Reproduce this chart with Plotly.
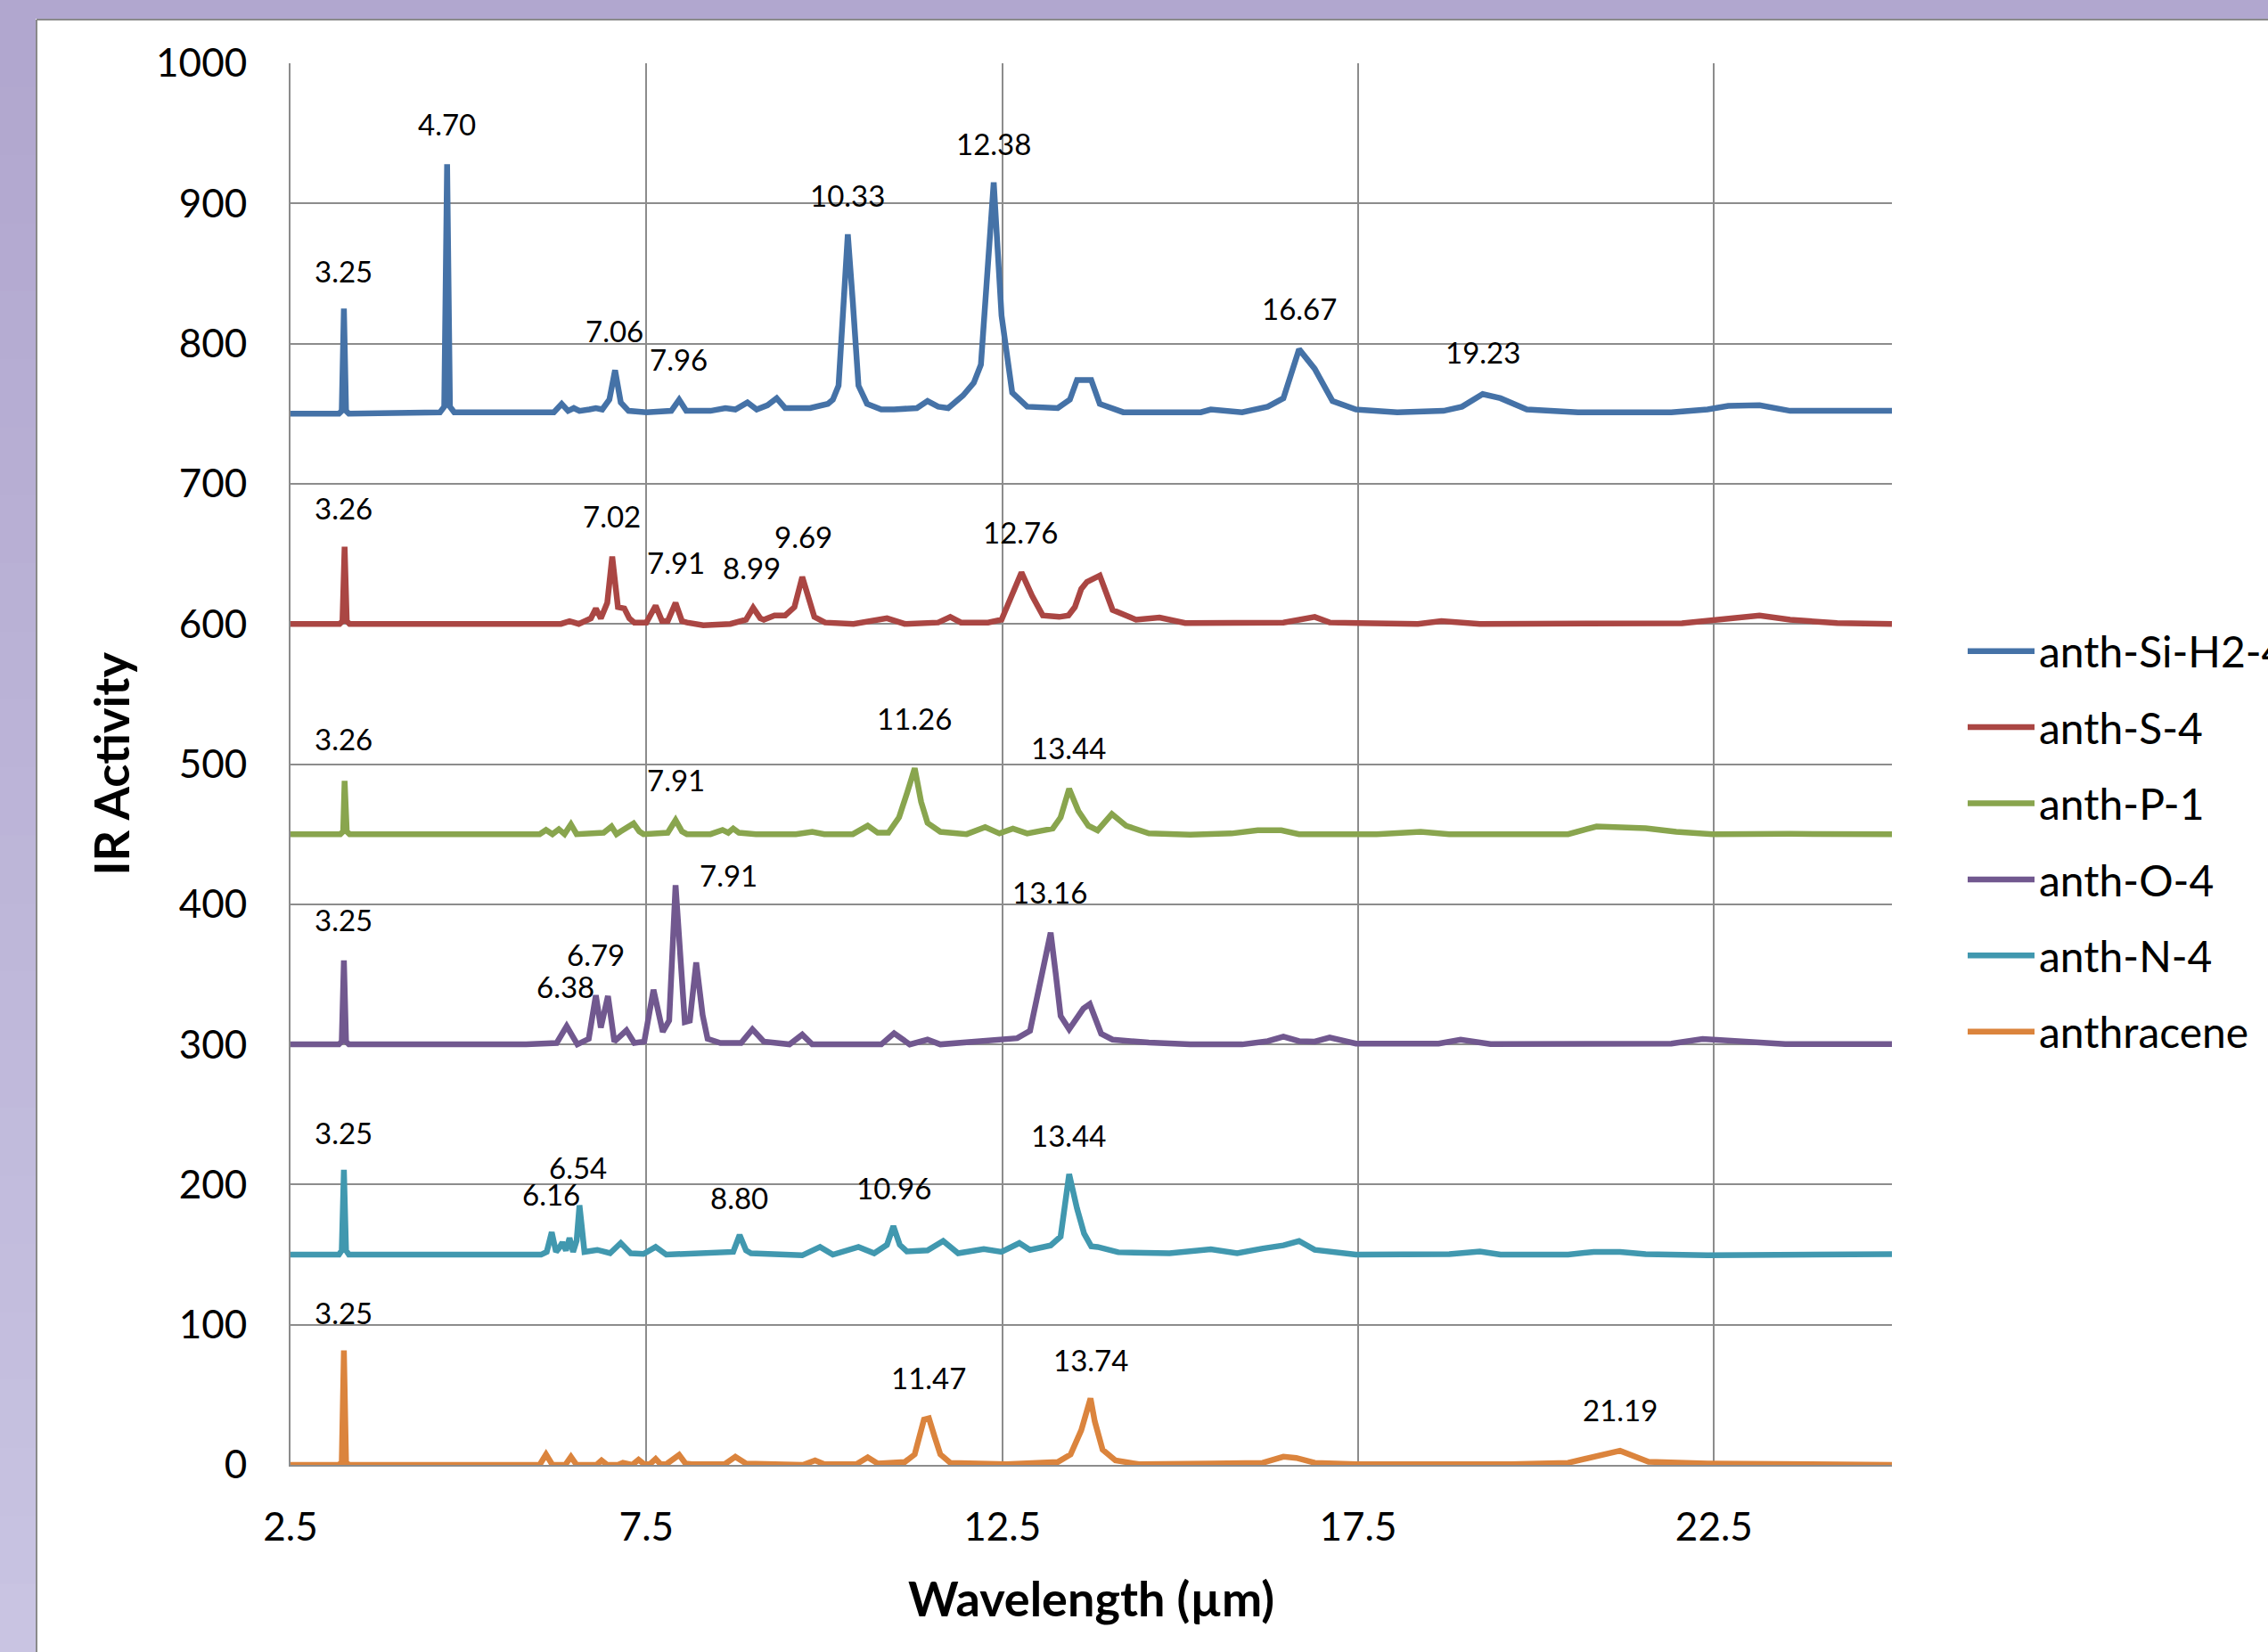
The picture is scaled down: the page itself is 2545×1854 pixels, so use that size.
import plotly.graph_objects as go

# ---------------- data ----------------
series_names = ["anth-Si-H2-4", "anth-S-4", "anth-P-1", "anth-O-4", "anth-N-4", "anthracene"]
series_colors = ["#4572A7", "#AA4643", "#89A54E", "#71588F", "#4198AF", "#DB843D"]

si_x = [2.5, 3.18, 3.22, 3.25, 3.28, 3.32, 4.6, 4.66, 4.70, 4.74, 4.8, 6.2, 6.31, 6.4, 6.48, 6.56,
        6.7, 6.79, 6.88, 6.98, 7.06, 7.14, 7.25, 7.5, 7.85, 7.96, 8.06, 8.4, 8.61, 8.75, 8.92, 9.05,
        9.2, 9.33, 9.45, 9.8, 10.05, 10.12, 10.2, 10.33, 10.4, 10.48, 10.6, 10.8, 10.98, 11.3, 11.45,
        11.6, 11.74, 11.95, 12.1, 12.2, 12.38, 12.49, 12.64, 12.85, 13.28, 13.45, 13.55, 13.75, 13.87,
        14.2, 15.29, 15.43, 15.87, 16.23, 16.45, 16.67, 16.89, 17.14, 17.47, 18.05, 18.7, 18.96, 19.25,
        19.5, 19.87, 20.59, 21.9, 22.41, 22.7, 23.14, 23.57, 25.0]
si_y = [750, 750, 752, 825, 752, 750, 751, 755, 928, 755, 751, 751, 757, 752, 754, 752,
        753, 754, 753, 760, 781, 758, 752, 751, 752, 760, 752, 752, 754, 753, 758, 753,
        756, 761, 754, 754, 757, 760, 770, 878, 830, 770, 757, 753, 753, 754, 759,
        755, 754, 763, 772, 785, 915, 820, 765, 755, 754, 760, 774, 774, 757,
        751, 751, 753, 751, 755, 761, 796, 782, 759, 753, 751, 752, 755, 764,
        761, 753, 751, 751, 753, 755.5, 756, 752, 752]

s_x = [2.5, 3.19, 3.23, 3.26, 3.29, 3.33, 6.3, 6.42, 6.55, 6.72, 6.79, 6.86, 6.95, 7.02, 7.1, 7.19,
       7.26, 7.33, 7.5, 7.63, 7.72, 7.8, 7.91, 8.0, 8.07, 8.3, 8.68, 8.9, 9.0, 9.1, 9.15, 9.3, 9.45,
       9.58, 9.69, 9.78, 9.86, 10.01, 10.41, 10.88, 11.13, 11.6, 11.77, 11.92, 12.3, 12.49, 12.64,
       12.77, 12.92, 13.07, 13.3, 13.43, 13.52, 13.61, 13.69, 13.87, 14.05, 14.38, 14.71, 15.07, 16.45,
       16.89, 17.1, 18.34, 18.67, 19.21, 22.05, 22.77, 23.14, 23.57, 24.23, 25.0]
s_y = [600, 600, 602, 655, 602, 600, 600, 602, 600, 604, 611, 604, 615, 648, 612, 611,
       604, 601, 601, 613, 602, 602, 615, 602, 601, 599, 600, 603, 611.5, 604, 603, 606, 606,
       612, 633.5, 617, 605, 601, 600, 604, 600, 601, 605, 601, 601, 603, 622,
       636.7, 620, 606, 605, 606, 612, 625, 630, 634.5, 610, 603, 604.5, 600.6, 601,
       605, 601, 600, 602, 600, 600.5, 604, 606, 603, 600.6, 600]

p_x = [2.5, 3.2, 3.24, 3.26, 3.29, 3.33, 6.0, 6.09, 6.18, 6.27, 6.35, 6.44, 6.52, 6.6, 6.81, 6.9,
       7.01, 7.08, 7.14, 7.32, 7.4, 7.46, 7.8, 7.91, 8.0, 8.07, 8.4, 8.57, 8.65, 8.72, 8.8, 9.04,
       9.6, 9.83, 10.0, 10.4, 10.61, 10.75, 10.9, 11.05, 11.16, 11.27, 11.36, 11.45, 11.63, 12.0,
       12.26, 12.46, 12.65, 12.85, 13.21, 13.32, 13.44, 13.57, 13.71, 13.84, 14.04, 14.24, 14.56,
       15.14, 15.72, 16.09, 16.42, 16.67, 17.76, 18.38, 18.78, 20.45, 20.85, 21.54, 21.97, 22.48,
       23.57, 25.0]
p_y = [450, 450, 452, 488, 452, 450, 450, 453, 450, 453.5, 450, 457, 450, 450, 450, 451,
       455.5, 450, 452, 457.6, 452, 450, 451, 460, 452, 450, 450, 453, 451, 454, 451, 450,
       450, 451.7, 450, 450, 456, 451, 451, 462, 479, 497, 473, 458, 451.7, 450,
       455, 450.5, 454, 450.5, 454, 462, 482.4, 466.5, 456, 452.7, 464.4, 456, 450.6,
       449.6, 450.5, 452.8, 452.8, 450, 450, 451.7, 450, 450, 455.5, 454.2, 451.7, 450,
       450.2, 450]

o_x = [2.5, 3.18, 3.22, 3.25, 3.28, 3.32, 5.81, 6.24, 6.38, 6.53, 6.69, 6.79, 6.86, 6.96, 7.05,
       7.22, 7.33, 7.47, 7.6, 7.73, 7.82, 7.91, 8.04, 8.11, 8.2, 8.29, 8.36, 8.54, 8.83, 8.99,
       9.15, 9.51, 9.69, 9.83, 10.8, 10.98, 11.2, 11.45, 11.63, 12.13, 12.71, 12.89, 13.03, 13.18,
       13.25, 13.32, 13.44, 13.64, 13.73, 13.89, 14.05, 14.56, 15.14, 15.87, 16.23, 16.45, 16.67,
       16.89, 17.1, 17.47, 18.63, 18.94, 19.36, 21.9, 22.34, 22.77, 23.5, 25.0]
o_y = [300, 300, 302, 360, 302, 300, 300, 301, 313, 300, 304, 335, 312, 334.5, 302,
       310, 301, 302, 339, 309, 317, 413.6, 316, 317, 358.5, 321, 304, 301, 301, 310.8,
       302, 300, 307, 300, 300, 308, 300, 303.4, 300, 302, 304.4, 309.7, 344.7, 379.7,
       351, 320.3, 310.8, 325.6, 328.8, 307.6, 303.4, 301.3, 300, 300, 302.3, 305.5, 302.3,
       302, 304.9, 300.6, 300.6, 303.4, 300.2, 300.6, 303.8, 302.3, 300.2, 300.2]

n_x = [2.5, 3.18, 3.22, 3.25, 3.28, 3.32, 6.02, 6.1, 6.17, 6.23, 6.27, 6.32, 6.37, 6.42, 6.47,
       6.52, 6.56, 6.6, 6.63, 6.81, 6.99, 7.14, 7.28, 7.46, 7.63, 7.78, 8.54, 8.72, 8.81, 8.9,
       8.97, 9.69, 9.94, 10.12, 10.48, 10.7, 10.88, 10.97, 11.06, 11.16, 11.45, 11.67, 11.88,
       12.24, 12.49, 12.74, 12.89, 13.18, 13.32, 13.44, 13.55, 13.65, 13.75, 13.84, 14.13, 14.85,
       15.43, 15.8, 16.16, 16.45, 16.67, 16.89, 17.47, 18.78, 19.21, 19.5, 20.45, 20.81, 21.18,
       21.54, 22.41, 25.0]
n_y = [150, 150, 153, 210.6, 153, 150, 150, 152, 166, 152, 154.4, 158.7, 153, 161.9, 152,
       160, 185.2, 160, 152, 153.4, 151, 158.3, 151, 150.5, 155.5, 150, 151, 152, 164, 153,
       151, 149.5, 155.5, 150, 155.5, 151, 157, 170.3, 157, 152.3, 153, 159.7, 151,
       154, 152, 158.3, 153.4, 156.6, 162.9, 207.4, 183, 165, 156, 155.5, 151.7, 151,
       153.8, 151, 154.4, 156.6, 159.7, 153.4, 150, 150.4, 152.3, 150, 150, 152, 152,
       150.4, 149.6, 150.4]

a_x = [2.5, 3.18, 3.22, 3.25, 3.28, 3.32, 6.0, 6.09, 6.18, 6.36, 6.44, 6.52, 6.8, 6.87, 6.95,
       7.1, 7.17, 7.3, 7.39, 7.47, 7.55, 7.63, 7.7, 7.78, 7.96, 8.05, 8.14, 8.6, 8.75, 8.9, 9.7,
       9.87, 10.0, 10.45, 10.61, 10.75, 11.13, 11.27, 11.4, 11.47, 11.55, 11.63, 11.77, 12.56,
       13.28, 13.46, 13.61, 13.74, 13.8, 13.91, 14.09, 14.42, 15.43, 16.16, 16.45, 16.63, 16.89,
       17.47, 19.65, 20.45, 21.18, 21.58, 22.41, 25.0]
a_y = [0, 0, 2, 81.7, 2, 0, 0, 7.5, 0, 0, 5.8, 0, 0, 3.2, 0,
       0, 1.5, 0, 3.7, 0.5, 0.5, 4.3, 0.5, 0.5, 7.1, 1, 0.5, 0.5, 5.8, 1, 0,
       3.2, 0.5, 0.5, 5.4, 1, 2, 7.5, 32.3, 33.3, 20, 7.5, 1.5, 0.5,
       2, 7.5, 24.7, 47.5, 31, 10.8, 3.2, 0.5, 1, 1.5, 5.8, 5, 1.5,
       0.5, 0.5, 1.5, 10.1, 2.2, 1, 0]

series_x = [si_x, s_x, p_x, o_x, n_x, a_x]
series_y = [si_y, s_y, p_y, o_y, n_y, a_y]

# peak labels: text, x (um), y (IR activity) of the label centre
label_text = ["3.25", "4.70", "7.06", "7.96", "10.33", "12.38", "16.67", "19.23",
              "3.26", "7.02", "7.91", "8.99", "9.69", "12.76",
              "3.26", "7.91", "11.26", "13.44",
              "3.25", "6.38", "6.79", "7.91", "13.16",
              "3.25", "6.16", "6.54", "8.80", "10.96", "13.44",
              "3.25", "11.47", "13.74", "21.19"]
label_x = [3.25, 4.70, 7.05, 7.95, 10.33, 12.38, 16.67, 19.25,
           3.25, 7.01, 7.91, 8.98, 9.70, 12.76,
           3.25, 7.91, 11.26, 13.43,
           3.25, 6.36, 6.79, 8.66, 13.17,
           3.25, 6.16, 6.54, 8.80, 10.98, 13.43,
           3.25, 11.46, 13.74, 21.18]
label_y = [852, 957, 809, 789, 906, 943, 825, 794,
           683, 677, 644, 640, 662.5, 665.6,
           518, 489, 532.5, 512,
           389, 341.6, 364, 421, 408.6,
           237, 193, 212.6, 191, 198, 235,
           109, 62, 75.3, 39.2]

x_range = [2.5, 25]
y_range = [0, 1000]

# ---------------- figure ----------------
FONT = "Lato, 'Open Sans', sans-serif"
fig = go.Figure()
for name, color, xs, ys in zip(series_names, series_colors, series_x, series_y):
    fig.add_trace(go.Scatter(x=xs, y=ys, mode="lines", name=name, legendgroup=name,
                             line=dict(color=color, width=6.5)))

for t, xv, yv in zip(label_text, label_x, label_y):
    fig.add_annotation(x=xv, y=yv, text=t, showarrow=False, xanchor="center", yanchor="middle",
                       font=dict(family=FONT, size=33, color="black"))

# axis titles
fig.add_annotation(xref="paper", yref="paper", x=0.5, y=-0.095, text="<b>Wavelength (µm)</b>",
                   showarrow=False, xanchor="center", yanchor="middle",
                   font=dict(family=FONT, size=54, color="black"))
fig.add_annotation(xref="paper", yref="paper", x=-0.1124, y=0.5, text="<b>IR Activity</b>",
                   textangle=-90, showarrow=False, xanchor="center", yanchor="middle",
                   font=dict(family=FONT, size=54, color="black"))

W, H = 2545, 1854
ml, mr, mt, mb = 326, 422, 71, 210
pw, ph = W - ml - mr, H - mt - mb

def px(X):
    return (X - ml) / pw

def py(Y):
    return (H - mb - Y) / ph

shapes = []
# lavender frame (top strip and left strip with a light vertical gradient)
shapes.append(dict(type="rect", xref="paper", yref="paper", x0=px(-5), x1=px(W + 5), y0=py(21), y1=py(-5),
                   fillcolor="rgb(177,167,207)", line=dict(width=0), layer="below"))
nsteps = 24
for i in range(nsteps):
    y0 = 21 + (H - 21) * i / nsteps
    y1 = 21 + (H - 21) * (i + 1) / nsteps + 1
    f = i / (nsteps - 1)
    r = int(177 + (201 - 177) * f)
    g = int(167 + (196 - 167) * f)
    b = int(207 + (226 - 207) * f)
    shapes.append(dict(type="rect", xref="paper", yref="paper", x0=px(-5), x1=px(40), y0=py(y1), y1=py(y0),
                       fillcolor=f"rgb({r},{g},{b})", line=dict(width=0), layer="below"))
# grey panel border
shapes.append(dict(type="line", xref="paper", yref="paper", x0=px(41), x1=px(W + 5), y0=py(22), y1=py(22),
                   line=dict(color="#8a8a8a", width=2)))
shapes.append(dict(type="line", xref="paper", yref="paper", x0=px(41), x1=px(41), y0=py(22), y1=py(H + 5),
                   line=dict(color="#8a8a8a", width=2)))

fig.update_layout(
    width=W, height=H,
    margin=dict(l=ml, r=mr, t=mt, b=mb, autoexpand=False),
    paper_bgcolor="white", plot_bgcolor="white",
    font=dict(family=FONT, color="black"),
    shapes=shapes,
    showlegend=True,
    legend=dict(x=px(2203), y=py(693), xanchor="left", yanchor="top",
                font=dict(family=FONT, size=48, color="black"),
                tracegroupgap=20, itemwidth=75, bgcolor="rgba(0,0,0,0)"),
    xaxis=dict(range=x_range, tick0=2.5, dtick=5, showgrid=True, gridcolor="#8c8c8c", gridwidth=2,
               showline=True, linecolor="#8c8c8c", linewidth=2, ticks="", zeroline=False,
               tickfont=dict(family=FONT, size=44, color="black"), ticklabelstandoff=30,
               tickformat=".1f"),
    yaxis=dict(range=y_range, tick0=0, dtick=100, showgrid=True, gridcolor="#8c8c8c", gridwidth=2,
               showline=True, linecolor="#8c8c8c", linewidth=2, ticks="", zeroline=False,
               tickfont=dict(family=FONT, size=44, color="black"), ticklabelstandoff=38),
)

fig.write_html("out.html", config={"displayModeBar": False},
               post_script="document.body.style.margin='0';document.body.style.overflow='hidden';")
